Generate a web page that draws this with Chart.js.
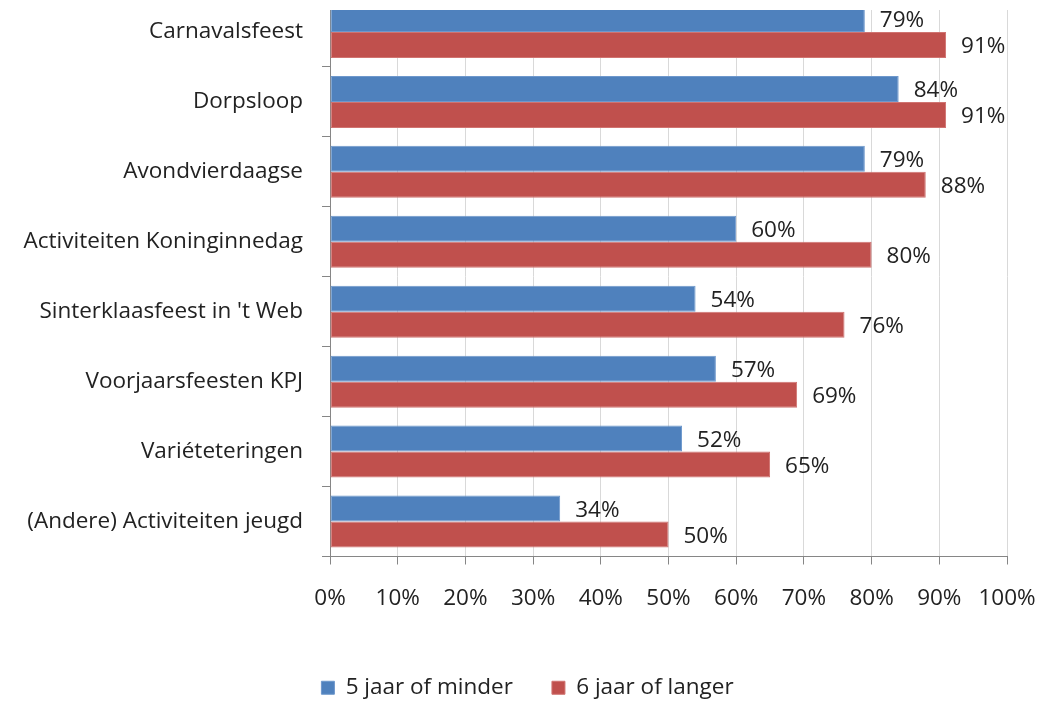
<!DOCTYPE html>
<html>
<head>
<meta charset="utf-8">
<script src="https://cdn.jsdelivr.net/npm/chart.js@4.4.1/dist/chart.umd.min.js"></script>
<style>
  html, body { margin: 0; padding: 0; background: #fff; overflow: hidden; width: 1049px; height: 701px; }
  #wrap { position: absolute; left: 0; top: -30px; width: 1049px; height: 739px; }
  #topmask { position: absolute; left: 0; top: 0; width: 1049px; height: 10px; background: #fff; }
</style>
</head>
<body>
<div id="wrap"><canvas id="c" width="1049" height="739"></canvas></div>
<div id="topmask"></div>
<script>
const categories = [
  "Carnavalsfeest",
  "Dorpsloop",
  "Avondvierdaagse",
  "Activiteiten Koninginnedag",
  "Sinterklaasfeest in 't Web",
  "Voorjaarsfeesten KPJ",
  "Variéteteringen",
  "(Andere) Activiteiten jeugd"
];
const seriesNames = ["5 jaar of minder", "6 jaar of langer"];
const valuesShort = [79, 84, 79, 60, 54, 57, 52, 34];
const valuesLong = [91, 91, 88, 80, 76, 69, 65, 50];
const xTicks = [0, 10, 20, 30, 40, 50, 60, 70, 80, 90, 100];

const FONT = "'Open Sans'";
const FSIZE = 22.5;
const TEXT = "#222222";

const labelPlugin = {
  id: 'valueLabels',
  afterDatasetsDraw(chart) {
    const ctx = chart.ctx;
    ctx.save();
    ctx.font = FSIZE + "px " + FONT;
    ctx.fillStyle = TEXT;
    ctx.textAlign = "left";
    ctx.textBaseline = "middle";
    chart.data.datasets.forEach((ds, i) => {
      const meta = chart.getDatasetMeta(i);
      meta.data.forEach((el, j) => {
        ctx.fillText(ds.data[j] + "%", el.x + 15, el.y + 2);
      });
    });
    ctx.restore();
  }
};

const legendShift = {
  id: 'legendShift',
  afterLayout(chart) {
    if (chart.legend) {
      chart.legend.left += 24;
      chart.legend.right += 24;
    }
  }
};

new Chart(document.getElementById('c'), {
  type: 'bar',
  data: {
    labels: categories,
    datasets: [
      { label: seriesNames[0], data: valuesShort, backgroundColor: "#4F81BD", borderColor: "#6E98CC", borderWidth: 1, borderSkipped: false,
        barPercentage: 1, categoryPercentage: 0.744 },
      { label: seriesNames[1], data: valuesLong, backgroundColor: "#C0504D", borderColor: "#D07370", borderWidth: 1, borderSkipped: false,
        barPercentage: 1, categoryPercentage: 0.744 }
    ]
  },
  options: {
    indexAxis: 'y',
    responsive: false,
    animation: false,
    devicePixelRatio: 1,
    layout: { padding: { top: 27, right: 42, left: 0, bottom: 0 } },
    plugins: {
      legend: {
        position: 'bottom',
        labels: {
          font: { family: FONT, size: FSIZE },
          color: TEXT,
          boxWidth: 13,
          boxHeight: 13,
          padding: 39,
          useBorderRadius: false
        }
      },
      tooltip: { enabled: false }
    },
    scales: {
      x: {
        min: 0, max: 100,
        afterBuildTicks(scale) { scale.ticks = xTicks.map(v => ({ value: v })); },
        afterFit(scale) { scale.height = 81; scale.paddingLeft = 0; scale.paddingRight = 0; },
        ticks: {
          callback: v => v + "%",
          font: { family: FONT, size: FSIZE },
          color: TEXT,
          padding: 21,
          maxRotation: 0,
          autoSkip: false
        },
        grid: { color: "#d9d9d9", tickColor: "#868686", tickLength: 8, drawOnChartArea: true },
        border: { color: "#868686" }
      },
      y: {
        afterFit(scale) { scale.width = 330; scale.paddingTop = 0; scale.paddingBottom = 0; },
        ticks: {
          font: { family: FONT, size: FSIZE },
          color: TEXT,
          padding: 19,
          autoSkip: false
        },
        grid: { offset: true, drawOnChartArea: false, tickColor: "#868686", tickLength: 8 },
        border: { color: "#868686" }
      }
    }
  },
  plugins: [labelPlugin, legendShift]
});
</script>
</body>
</html>
